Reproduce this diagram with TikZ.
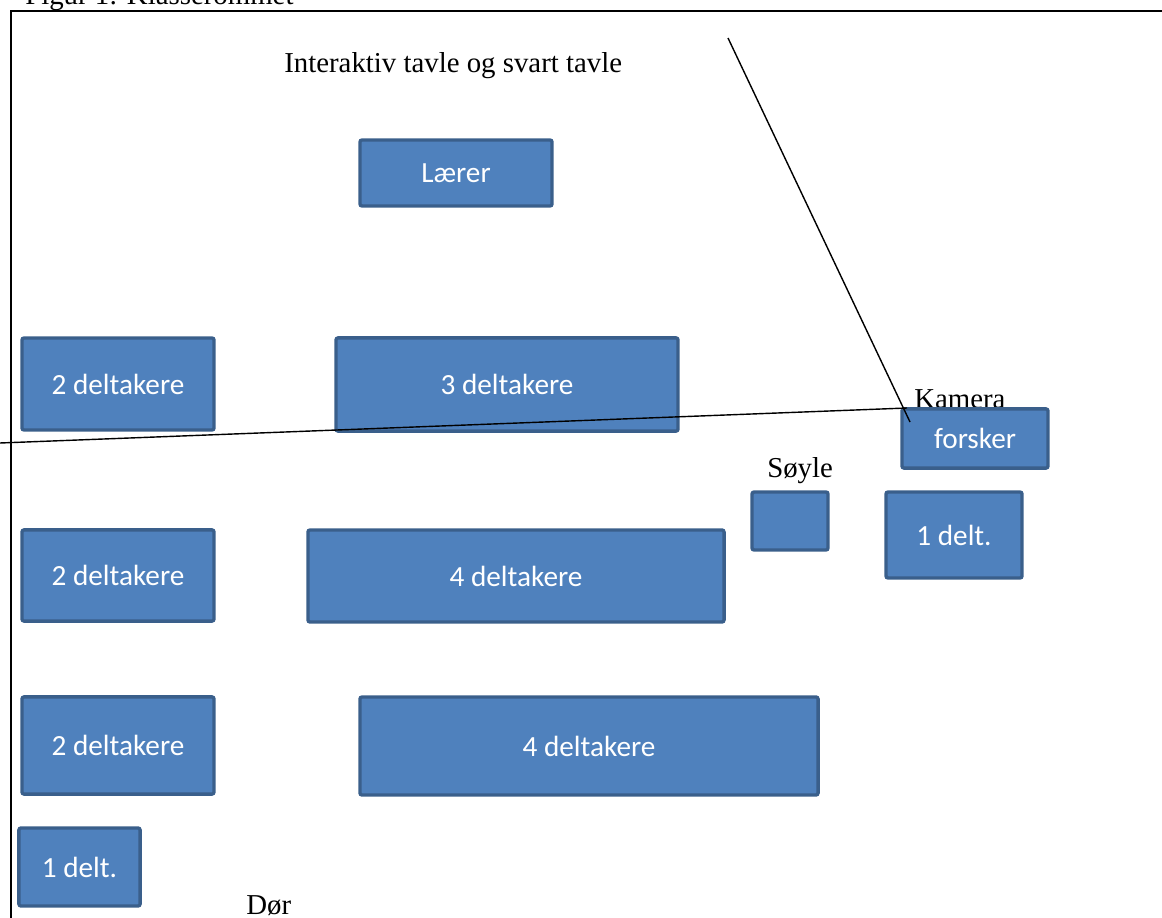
\documentclass[tikz,border=0pt]{standalone}
\usepackage{fontspec}
\setmainfont{Liberation Serif}
\newfontfamily\boksfont{Carlito}
\usetikzlibrary{positioning}

\definecolor{pultfyll}{HTML}{4F81BD}
\definecolor{pultkant}{HTML}{3A5F8B}

\begin{document}
\begin{tikzpicture}[x=0.025cm,y=-0.025cm,
    pult/.style={draw=pultkant,fill=pultfyll,line width=2.4pt,rounded corners=1.5pt,
      text=white,font=\boksfont\fontsize{20.8}{24}\selectfont,inner sep=0pt},
    merke/.style={font=\fontsize{20.5}{24}\selectfont,inner sep=0pt,anchor=base west}]
    \useasboundingbox (0,0) rectangle (1162,918);

    % rammen rundt rommet
    \draw[line width=1.6pt] (1175,11) -- (11,11) -- (11,930);
    \node[merke] (figur) at (25,5) {Figur 1: Klasserommet};

    \node[merke] (tavle) at (284,73) {Interaktiv tavle og svart tavle};
    \node[merke] (kameratekst) at (914,408) {Kamera};
    \node[merke] (soyletekst) at (767,477) {Søyle};
    \node[merke] (dor) at (246,914) {Dør};

    \node[pult,minimum width=4.8cm,minimum height=1.65cm] (laerer) at (456,173) {Lærer};

    \node[pult,minimum width=4.8cm,minimum height=2.3cm] (rad1a) at (118,384) {2 deltakere};
    \node[pult,minimum width=8.55cm,minimum height=2.33cm] (rad1b) at (507,384.5) {3 deltakere};
    \node[pult,minimum width=3.65cm,minimum height=1.48cm] (forsker) at (975,438.5) {forsker};

    \node[pult,minimum width=1.9cm,minimum height=1.45cm] (soyle) at (790,521) {};
    \node[pult,minimum width=3.4cm,minimum height=2.15cm] (enhoyre) at (954,535) {1 delt.};

    \node[pult,minimum width=4.8cm,minimum height=2.28cm] (rad2a) at (118,575.5) {2 deltakere};
    \node[pult,minimum width=10.4cm,minimum height=2.3cm] (rad2b) at (516,576) {4 deltakere};

    \node[pult,minimum width=4.8cm,minimum height=2.43cm] (rad3a) at (118,745.5) {2 deltakere};
    \node[pult,minimum width=11.45cm,minimum height=2.45cm] (rad3b) at (589,746) {4 deltakere};

    \node[pult,minimum width=3.03cm,minimum height=1.95cm] (envenstre) at (79.5,867) {1 delt.};

    % kameraets synsfelt
    \coordinate (tavlekant) at (728,38);
    \coordinate (kamera1) at (910,422);
    \coordinate (kamera2) at (907,408);
    \coordinate (vegg) at (0,443);
    \draw[line width=1pt] (tavlekant) -- (kamera1);
    \draw[line width=1pt] (vegg) -- (kamera2);
\end{tikzpicture}
\end{document}
